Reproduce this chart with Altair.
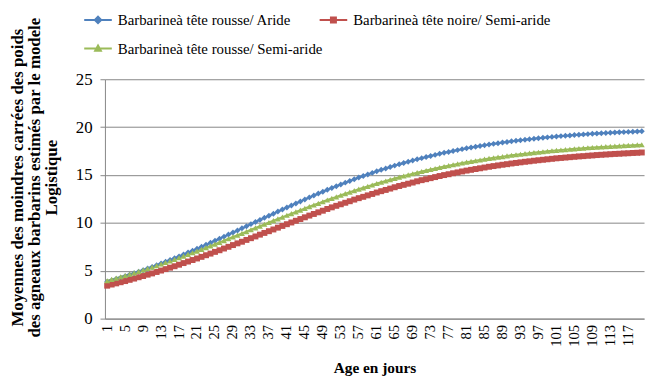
import altair as alt
import pandas as pd

series_names = [
    "Barbarineà tête rousse/ Aride",
    "Barbarineà tête noire/ Semi-aride",
    "Barbarineà tête rousse/ Semi-aride",
]
series_colors = ["#4F81BD", "#C0504D", "#9BBB59"]
series_shapes = ["diamond", "square", "triangle-up"]

days = list(range(1, 121))

aride_rousse = [
    3.85, 3.99, 4.13, 4.28, 4.43, 4.58, 4.74, 4.90, 5.06, 5.23,
    5.40, 5.58, 5.76, 5.94, 6.12, 6.31, 6.50, 6.70, 6.90, 7.10,
    7.29, 7.50, 7.71, 7.92, 8.13, 8.34, 8.56, 8.78, 8.99, 9.21,
    9.43, 9.65, 9.87, 10.09, 10.31, 10.53, 10.74, 10.96, 11.18, 11.40,
    11.61, 11.82, 12.03, 12.24, 12.45, 12.66, 12.86, 13.06, 13.25, 13.45,
    13.65, 13.83, 14.01, 14.20, 14.38, 14.56, 14.73, 14.89, 15.06, 15.22,
    15.39, 15.54, 15.68, 15.83, 15.98, 16.12, 16.25, 16.38, 16.51, 16.64,
    16.76, 16.87, 16.99, 17.10, 17.21, 17.32, 17.41, 17.51, 17.60, 17.70,
    17.79, 17.87, 17.95, 18.03, 18.11, 18.19, 18.25, 18.32, 18.39, 18.45,
    18.52, 18.57, 18.63, 18.68, 18.74, 18.79, 18.84, 18.89, 18.93, 18.98,
    19.02, 19.06, 19.10, 19.13, 19.17, 19.21, 19.24, 19.27, 19.30, 19.33,
    19.36, 19.38, 19.41, 19.43, 19.46, 19.48, 19.50, 19.52, 19.54, 19.56,
]

semiaride_noire = [
    3.44, 3.56, 3.68, 3.80, 3.92, 4.05, 4.18, 4.32, 4.45, 4.59,
    4.72, 4.87, 5.02, 5.17, 5.32, 5.47, 5.63, 5.80, 5.96, 6.12,
    6.28, 6.45, 6.62, 6.79, 6.97, 7.14, 7.32, 7.50, 7.68, 7.86,
    8.03, 8.22, 8.40, 8.58, 8.77, 8.95, 9.13, 9.31, 9.50, 9.68,
    9.86, 10.04, 10.22, 10.40, 10.58, 10.76, 10.93, 11.10, 11.27, 11.45,
    11.62, 11.78, 11.94, 12.10, 12.26, 12.43, 12.58, 12.72, 12.87, 13.02,
    13.17, 13.31, 13.44, 13.58, 13.72, 13.85, 13.97, 14.09, 14.21, 14.34,
    14.46, 14.56, 14.67, 14.78, 14.89, 14.99, 15.08, 15.18, 15.27, 15.37,
    15.46, 15.54, 15.62, 15.70, 15.78, 15.86, 15.93, 16.00, 16.07, 16.13,
    16.20, 16.26, 16.32, 16.38, 16.43, 16.49, 16.54, 16.59, 16.64, 16.69,
    16.74, 16.78, 16.82, 16.86, 16.90, 16.94, 16.97, 17.01, 17.04, 17.08,
    17.11, 17.14, 17.17, 17.20, 17.22, 17.25, 17.27, 17.30, 17.32, 17.35,
]

semiaride_rousse = [
    3.96, 4.10, 4.23, 4.37, 4.50, 4.63, 4.78, 4.93, 5.08, 5.23,
    5.38, 5.54, 5.70, 5.86, 6.02, 6.19, 6.36, 6.53, 6.71, 6.88,
    7.05, 7.23, 7.42, 7.60, 7.78, 7.96, 8.15, 8.34, 8.53, 8.71,
    8.90, 9.09, 9.28, 9.47, 9.66, 9.85, 10.04, 10.23, 10.41, 10.60,
    10.79, 10.97, 11.15, 11.33, 11.52, 11.70, 11.87, 12.04, 12.21, 12.39,
    12.56, 12.72, 12.88, 13.05, 13.21, 13.37, 13.52, 13.66, 13.81, 13.96,
    14.11, 14.24, 14.37, 14.51, 14.64, 14.77, 14.89, 15.01, 15.13, 15.25,
    15.37, 15.47, 15.58, 15.68, 15.78, 15.89, 15.98, 16.07, 16.16, 16.25,
    16.34, 16.42, 16.49, 16.57, 16.65, 16.73, 16.79, 16.86, 16.92, 16.99,
    17.06, 17.11, 17.17, 17.23, 17.28, 17.34, 17.38, 17.43, 17.48, 17.53,
    17.57, 17.61, 17.65, 17.69, 17.73, 17.77, 17.80, 17.84, 17.87, 17.90,
    17.93, 17.96, 17.99, 18.01, 18.04, 18.07, 18.09, 18.11, 18.14, 18.16,
]

x_tick_labels = [1, 5, 9, 13, 17, 21, 25, 29, 33, 37, 41, 45, 49, 53, 57, 61,
                 65, 69, 73, 77, 81, 85, 89, 93, 97, 101, 105, 109, 113, 117]
y_tick_labels = [0, 5, 10, 15, 20, 25]

y_title = [
    "Moyennes des moindres carrées des poids",
    "des agneaux barbarins estimés par le modele",
    "Logistique",
]
x_title = "Age en jours"

rows = []
for name, vals in zip(series_names, [aride_rousse, semiaride_noire, semiaride_rousse]):
    for d, v in zip(days, vals):
        rows.append({"day": d, "value": v, "series": name})
df = pd.DataFrame(rows)

FONT = "Liberation Serif"
GRID = "#868686"

legend_paths = [
    "M-1.55,0H1.55M0,-0.36L0.36,0L0,0.36L-0.36,0Z",
    "M-1.55,0H1.55M-0.28,-0.28H0.28V0.28H-0.28Z",
    "M-1.55,0H1.55M0,-0.34L0.32,0.24H-0.32Z",
]
sym_expr = (
    f"datum.value == '{series_names[0]}' ? '{legend_paths[0]}' : "
    f"(datum.value == '{series_names[1]}' ? '{legend_paths[1]}' : '{legend_paths[2]}')"
)

color_enc = alt.Color(
    "series:N",
    scale=alt.Scale(domain=series_names, range=series_colors),
    legend=alt.Legend(
        title=None,
        orient="none",
        legendX=-17,
        legendY=-70,
        direction="horizontal",
        columns=2,
        symbolType={"expr": sym_expr},
        symbolSize=324,
        symbolStrokeWidth=2,
        symbolOpacity=1,
        labelFont=FONT,
        labelFontSize=15,
        labelColor="#000000",
        labelOffset=10,
        labelLimit=400,
        columnPadding=-7,
        rowPadding=11,
        padding=0,
    ),
)

x_enc = alt.X(
    "day:Q",
    scale=alt.Scale(domain=[0.5, 120.5], nice=False, zero=False),
    axis=alt.Axis(
        values=x_tick_labels,
        title=x_title,
        labelAngle=270,
        labelAlign="right",
        labelBaseline="middle",
        labelPadding=6,
        labelFont=FONT,
        labelFontSize=14.67,
        labelColor="#000000",
        labelOverlap=False,
        labelFlush=False,
        ticks=False,
        grid=False,
        domainColor=GRID,
        titleFont=FONT,
        titleFontSize=15.5,
        titleFontWeight="bold",
        titleColor="#000000",
        titleY=49,
        titleBaseline="middle",
    ),
)

y_enc = alt.Y(
    "value:Q",
    scale=alt.Scale(domain=[0, 25], nice=False),
    axis=alt.Axis(
        values=y_tick_labels,
        title=y_title,
        grid=True,
        gridColor=GRID,
        gridWidth=1,
        domainColor=GRID,
        tickColor=GRID,
        tickSize=5,
        labelPadding=8,
        labelFont=FONT,
        labelFontSize=17,
        labelColor="#000000",
        titleFont=FONT,
        titleFontSize=17,
        titleFontWeight="bold",
        titleColor="#000000",
        titleAngle=270,
        titleX=-88,
        titleY=99,
        titleAlign="center",
        titleBaseline="middle",
        titleLineHeight=17,
    ),
)

base = alt.Chart(df).encode(x=x_enc, y=y_enc, color=color_enc)

layers = [base.mark_line(strokeWidth=2)]
for name, shp in zip(series_names, series_shapes):
    layers.append(
        base.transform_filter(alt.datum.series == name).mark_point(
            shape=shp, filled=True, size=36, opacity=1
        )
    )

chart = (
    alt.layer(*layers)
    .properties(
        width=545,
        height=242,
        padding={"left": 98, "top": 70, "right": 2, "bottom": 57},
        autosize=alt.AutoSizeParams(type="none"),
        background="white",
    )
    .configure_view(stroke=None)
)

chart.save("out.html", embed_options={"renderer": "svg", "actions": False})
